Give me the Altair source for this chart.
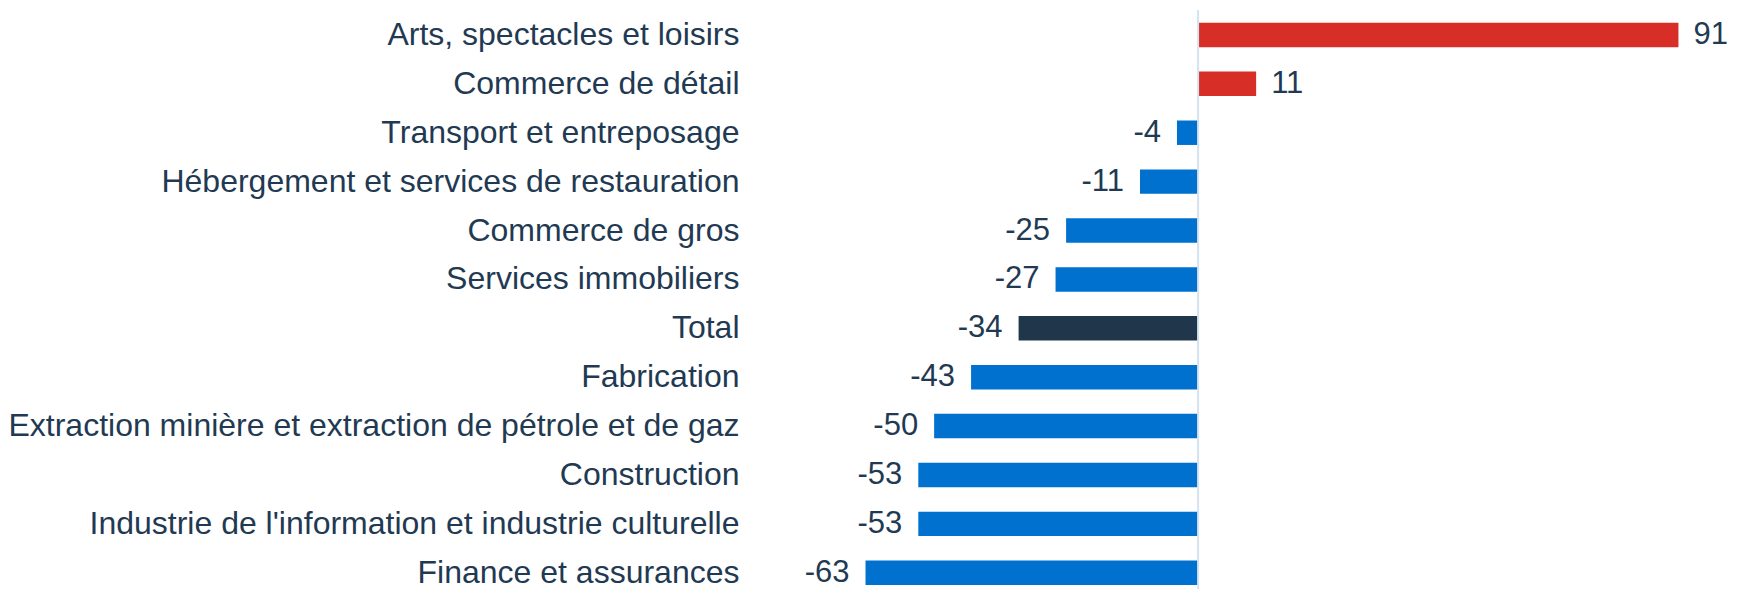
import altair as alt
import pandas as pd

categories = [
    "Arts, spectacles et loisirs",
    "Commerce de détail",
    "Transport et entreposage",
    "Hébergement et services de restauration",
    "Commerce de gros",
    "Services immobiliers",
    "Total",
    "Fabrication",
    "Extraction minière et extraction de pétrole et de gaz",
    "Construction",
    "Industrie de l'information et industrie culturelle",
    "Finance et assurances",
]
values = [91, 11, -4, -11, -25, -27, -34, -43, -50, -53, -53, -63]
groups = ["pos", "pos", "neg", "neg", "neg", "neg", "total", "neg", "neg", "neg", "neg", "neg"]

group_domain = ["pos", "neg", "total"]
group_colors = ["#D72E28", "#0071CE", "#20364B"]

TEXT = "#1F3A52"
FONT = "Liberation Sans"
W, H = 871, 575

df = pd.DataFrame({"cat": categories, "val": values, "grp": groups})

y_enc = alt.Y(
    "cat:N",
    sort=categories,
    scale=alt.Scale(paddingInner=0.5, paddingOuter=0.13, align=1),
    axis=alt.Axis(
        title=None,
        domain=False,
        ticks=False,
        labelFont=FONT,
        labelFontSize=32,
        labelColor=TEXT,
        labelPadding=79,
        labelLimit=2000,
    ),
)
x_scale = alt.Scale(domain=[-72, 93], nice=False, zero=False)
x_enc = alt.X("val:Q", scale=x_scale, axis=None)

base = alt.Chart(df).transform_calculate(lbl="'' + datum.val")

bars = base.mark_bar().encode(
    y=y_enc,
    x=x_enc,
    x2=alt.datum(0),
    color=alt.Color(
        "grp:N",
        scale=alt.Scale(domain=group_domain, range=group_colors),
        legend=None,
    ),
)

rule = alt.Chart(pd.DataFrame({"z": [0]})).mark_rule(
    color="#D5E2EF", strokeWidth=2
).encode(
    x=alt.X("z:Q", scale=x_scale, axis=None),
    y=alt.value(0),
    y2=alt.value(H + 4),
)

pos_text = base.transform_filter("datum.val >= 0").mark_text(
    align="left", baseline="middle", dx=15, font=FONT, fontSize=31, color=TEXT
).encode(y=alt.Y("cat:N", sort=categories), x=x_enc, text="lbl:N")

neg_text = base.transform_filter("datum.val < 0").mark_text(
    align="right", baseline="middle", dx=-16, font=FONT, fontSize=31, color=TEXT
).encode(y=alt.Y("cat:N", sort=categories), x=x_enc, text="lbl:N")

chart = (
    alt.layer(bars, rule, pos_text, neg_text)
    .properties(
        width=W,
        height=H,
        autosize=alt.AutoSizeParams(type="none"),
        padding={"left": 810, "top": 2, "right": 40, "bottom": 4},
    )
    .configure_view(stroke=None)
)

chart.save("out.html", embed_options={"renderer": "svg", "actions": False})
